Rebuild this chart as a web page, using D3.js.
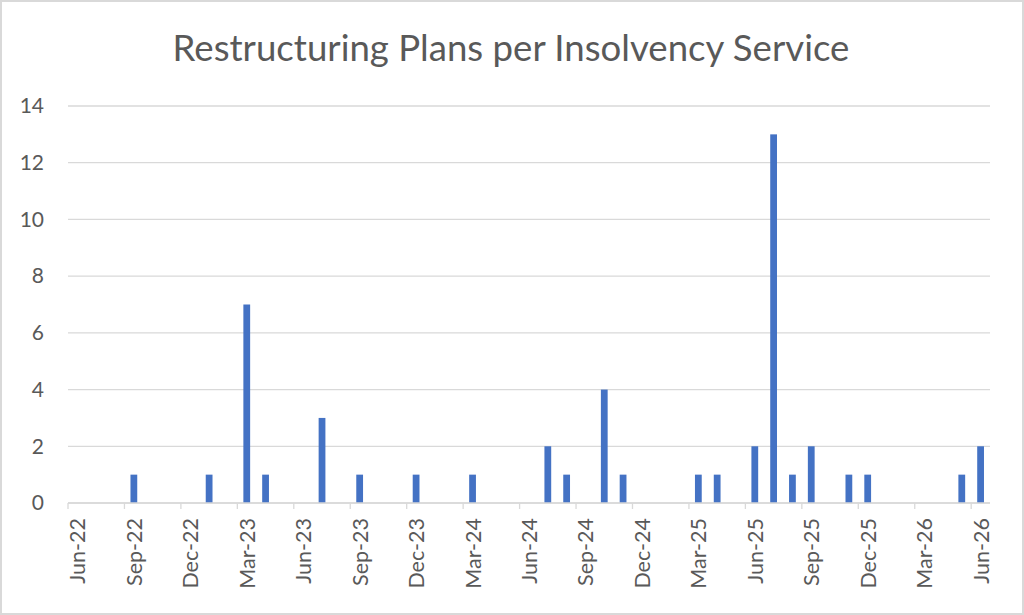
<!DOCTYPE html>
<html>
<head>
<meta charset="utf-8">
<script src="https://cdn.jsdelivr.net/npm/d3@7"></script>
<style>
    body { margin: 0; background: #fff; }
    text { font-family: Lato, "Open Sans", sans-serif; fill: #595959; }
</style>
</head>
<body>
<div id="chart"></div>
<script>
// monthly categories, Jun-22 .. Jun-26
const months = [
    "Jun-22","Jul-22","Aug-22","Sep-22","Oct-22","Nov-22","Dec-22",
    "Jan-23","Feb-23","Mar-23","Apr-23","May-23","Jun-23","Jul-23","Aug-23","Sep-23","Oct-23","Nov-23","Dec-23",
    "Jan-24","Feb-24","Mar-24","Apr-24","May-24","Jun-24","Jul-24","Aug-24","Sep-24","Oct-24","Nov-24","Dec-24",
    "Jan-25","Feb-25","Mar-25","Apr-25","May-25","Jun-25","Jul-25","Aug-25","Sep-25","Oct-25","Nov-25","Dec-25",
    "Jan-26","Feb-26","Mar-26","Apr-26","May-26","Jun-26"
];

// restructuring plans per month
const plans = [
    0,0,0,1,0,0,0,
    1,0,7,1,0,0,3,0,1,0,0,1,
    0,0,1,0,0,0,2,1,0,4,1,0,
    0,0,1,1,0,2,13,1,2,0,1,1,
    0,0,0,0,1,2
];

// quarterly labels shown on the axis
const tickLabels = ["Jun-22","Sep-22","Dec-22","Mar-23","Jun-23","Sep-23","Dec-23","Mar-24",
    "Jun-24","Sep-24","Dec-24","Mar-25","Jun-25","Sep-25","Dec-25","Mar-26","Jun-26"];

const yTicks = [0, 2, 4, 6, 8, 10, 12, 14];

const W = 1024, H = 615;
const margin = {top: 106, right: 34, bottom: 112, left: 68};
const width = W - margin.left - margin.right;
const height = H - margin.top - margin.bottom;

const data = months.map((m, i) => ({month: m, value: plans[i]}));

const svg = d3.select("#chart").append("svg")
    .attr("width", W)
    .attr("height", H);

// outer border
svg.append("rect")
    .attr("x", 1).attr("y", 1)
    .attr("width", W - 2).attr("height", H - 2)
    .attr("fill", "#fff")
    .attr("stroke", "#d9d9d9")
    .attr("stroke-width", 2);

// title
let title = svg.append("text")
    .attr("x", 511)
    .attr("y", 61)
    .attr("text-anchor", "middle")
    .style("font-size", "34px")
    .text("Restructuring Plans per Insolvency Service");
// fit title width to the reference (~677px)
let tw = title.node().getComputedTextLength();
title.style("font-size", (34 * 677 / tw) + "px");

const g = svg.append("g")
    .attr("transform", "translate(" + margin.left + "," + margin.top + ")");

// Scales
const x = d3.scaleBand()
    .domain(months)
    .range([0, width])
    .padding(0);

const y = d3.scaleLinear()
    .domain([0, 14])
    .range([height, 0]);

// gridlines
g.selectAll(".grid")
    .data(yTicks)
    .enter().append("line")
    .attr("class", "grid")
    .attr("x1", 0).attr("x2", width)
    .attr("y1", d => y(d)).attr("y2", d => y(d))
    .attr("stroke", "#d9d9d9")
    .attr("stroke-width", 1.3);

// y axis labels
const yAxis = d3.axisLeft(y).tickValues(yTicks).tickSize(0).tickPadding(24);
g.append("g")
    .attr("class", "y-axis")
    .call(yAxis)
    .call(s => s.select(".domain").remove())
    .selectAll("text")
    .style("font-size", "21px")
    .attr("fill", "#595959");

// bars
const barFrac = 0.36;
g.selectAll(".bar")
    .data(data.filter(d => d.value > 0))
    .enter().append("rect")
    .attr("class", "bar")
    .attr("x", d => x(d.month) + x.bandwidth() * (1 - barFrac) / 2)
    .attr("width", x.bandwidth() * barFrac)
    .attr("y", d => y(d.value))
    .attr("height", d => height - y(d.value))
    .attr("fill", "#4472c4");

// x axis
const xAxis = d3.axisBottom(x).tickValues(tickLabels).tickSize(0).tickPadding(0);
const xg = g.append("g")
    .attr("class", "x-axis")
    .attr("transform", "translate(0," + height + ")")
    .call(xAxis);
xg.select(".domain").remove();
let xLabels = xg.selectAll("text")
    .style("font-size", "20px")
    .attr("fill", "#595959")
    .attr("text-anchor", "end")
    .attr("dy", null)
    .attr("transform", "translate(0,15) rotate(-90)")
    .attr("x", 0)
    .attr("y", 0)
    .attr("dominant-baseline", "central");
// size the rotated labels so "Sep-22" is about 68px long, as in the reference
let sepLen = xLabels.filter(d => d === "Sep-22").node().getComputedTextLength();
xLabels.style("font-size", (20 * 68 / sepLen) + "px");

// axis line and tick marks at band starts
g.append("line")
    .attr("x1", 0).attr("x2", width)
    .attr("y1", height).attr("y2", height)
    .attr("stroke", "#d9d9d9")
    .attr("stroke-width", 1.3);
g.selectAll(".xtick")
    .data(tickLabels)
    .enter().append("line")
    .attr("class", "xtick")
    .attr("x1", d => x(d)).attr("x2", d => x(d))
    .attr("y1", height).attr("y2", height + 6)
    .attr("stroke", "#d9d9d9")
    .attr("stroke-width", 1.3);
</script>
</body>
</html>
